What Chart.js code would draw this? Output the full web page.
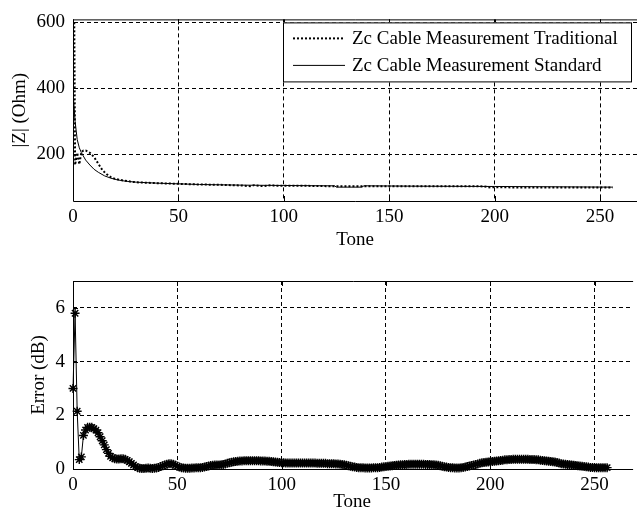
<!DOCTYPE html>
<html>
<head>
<meta charset="utf-8">
<script src="https://cdn.jsdelivr.net/npm/chart.js@4.4.0/dist/chart.umd.min.js"></script>
<style>
  html, body { margin: 0; padding: 0; background: #fff; }
  body { width: 637px; height: 515px; position: relative; overflow: hidden; }
  canvas { position: absolute; left: 0; }
  #zChart { top: 0; }
  #errChart { top: 258px; }
</style>
</head>
<body>
<canvas id="zChart" width="637" height="256"></canvas>
<canvas id="errChart" width="637" height="257"></canvas>
<script>
// tick labels
const toneTicks = [0, 50, 100, 150, 200, 250];
const zTicks = [200, 400, 600];
const errTicks = [0, 2, 4, 6];

// |Z| traditional measurement (dotted)
const tradTones = [0.6, 1, 2, 3, 4, 5, 6, 8, 10, 12, 14, 16, 18, 20, 24, 28, 32, 40, 50, 60, 70,
  80, 84, 86, 90, 94, 96, 100, 110, 120, 130, 140, 150, 160, 170, 180, 190, 195, 198, 200, 210,
  220, 230, 240, 250, 256];
const tradValues = [600, 168, 205, 170, 208, 212, 212, 205, 192, 172, 152, 140, 131, 126, 121, 117, 115, 113, 111, 109, 108,
  106, 104, 107, 104, 107, 105, 105, 105, 104, 104, 104, 104, 104, 104, 104, 104, 103, 100, 101, 100,
  100, 100, 100, 100, 100];

// |Z| standard measurement (solid)
const stdTones = [0, 1, 2, 3, 4, 6, 8, 10, 12, 15, 18, 21, 25, 30, 40, 50, 60, 80, 100, 120, 124,
  125, 137, 138, 160, 200, 230, 256];
const stdValues = [390, 300, 245, 220, 205, 183, 168, 155, 146, 135, 128, 123, 119, 116, 113, 111, 109, 107, 106, 105, 105,
  101, 101, 105, 104, 103, 102, 101];

// error (dB), one value per tone 0..256
const errValues = [
  3.0, 5.8, 2.15, 0.35, 0.45, 1.25, 1.45, 1.55, 1.55, 1.55,
  1.5, 1.45, 1.35, 1.2, 1.05, 0.9, 0.72, 0.58, 0.47, 0.42,
  0.38, 0.37, 0.37, 0.38, 0.38, 0.36, 0.32, 0.27, 0.21, 0.15,
  0.09, 0.05, 0.03, 0.02, 0.02, 0.03, 0.04, 0.03, 0.02, 0.03,
  0.04, 0.06, 0.09, 0.12, 0.15, 0.18, 0.2, 0.2, 0.18, 0.14,
  0.1, 0.07, 0.05, 0.04, 0.03, 0.03, 0.03, 0.04, 0.04, 0.05,
  0.05, 0.05, 0.06, 0.07, 0.09, 0.11, 0.13, 0.14, 0.15, 0.15,
  0.15, 0.16, 0.17, 0.19, 0.21, 0.23, 0.25, 0.27, 0.28, 0.29,
  0.3, 0.3, 0.31, 0.31, 0.31, 0.31, 0.31, 0.31, 0.31, 0.31,
  0.3, 0.3, 0.3, 0.29, 0.29, 0.28, 0.27, 0.26, 0.25, 0.24,
  0.23, 0.23, 0.22, 0.22, 0.22, 0.22, 0.22, 0.22, 0.22, 0.22,
  0.22, 0.22, 0.22, 0.22, 0.22, 0.22, 0.22, 0.21, 0.21, 0.21,
  0.21, 0.21, 0.2, 0.2, 0.2, 0.2, 0.19, 0.19, 0.18, 0.17,
  0.16, 0.14, 0.12, 0.1, 0.08, 0.07, 0.06, 0.05, 0.05, 0.05,
  0.04, 0.04, 0.04, 0.04, 0.05, 0.05, 0.05, 0.06, 0.07, 0.08,
  0.09, 0.1, 0.11, 0.12, 0.13, 0.14, 0.15, 0.16, 0.16, 0.17,
  0.17, 0.18, 0.18, 0.18, 0.18, 0.18, 0.18, 0.18, 0.18, 0.17,
  0.17, 0.17, 0.16, 0.16, 0.15, 0.14, 0.12, 0.1, 0.08, 0.07,
  0.06, 0.05, 0.05, 0.04, 0.04, 0.04, 0.05, 0.06, 0.07, 0.09,
  0.11, 0.13, 0.15, 0.17, 0.19, 0.21, 0.23, 0.24, 0.25, 0.26,
  0.27, 0.28, 0.29, 0.3, 0.31, 0.32, 0.33, 0.34, 0.34, 0.35,
  0.35, 0.36, 0.36, 0.36, 0.36, 0.36, 0.36, 0.36, 0.36, 0.35,
  0.35, 0.35, 0.34, 0.34, 0.33, 0.32, 0.31, 0.3, 0.29, 0.28,
  0.27, 0.26, 0.24, 0.22, 0.2, 0.19, 0.18, 0.17, 0.16, 0.15,
  0.14, 0.13, 0.12, 0.11, 0.1, 0.09, 0.08, 0.07, 0.06, 0.06,
  0.05, 0.05, 0.05, 0.05, 0.05, 0.05, 0.05
];

Chart.defaults.font.family = '"Liberation Serif", "Times New Roman", serif';
Chart.defaults.font.size = 19;
Chart.defaults.color = '#000';

function toPoints(xs, ys) {
  return xs.map((x, i) => ({ x: x, y: ys[i] }));
}

// axes box (left, top, bottom) plus inward tick marks, like matlab
const framePlugin = {
  id: 'frame',
  beforeDatasetsDraw(chart) {
    const { ctx, chartArea: a, scales } = chart;
    ctx.save();
    ctx.strokeStyle = '#000';
    ctx.lineWidth = 1;
    ctx.beginPath();
    ctx.moveTo(a.right + 2, a.top + 0.5);
    ctx.lineTo(a.left + 0.5, a.top + 0.5);
    ctx.lineTo(a.left + 0.5, a.bottom + 0.5);
    ctx.lineTo(a.right + 2, a.bottom + 0.5);
    scales.x.ticks.forEach((t) => {
      const px = Math.round(scales.x.getPixelForValue(t.value)) + 0.5;
      ctx.moveTo(px, a.bottom);
      ctx.lineTo(px, a.bottom - 5);
      ctx.moveTo(px, a.top);
      ctx.lineTo(px, a.top + 5);
    });
    scales.y.ticks.forEach((t) => {
      const py = Math.round(scales.y.getPixelForValue(t.value)) + 0.5;
      ctx.moveTo(a.left, py);
      ctx.lineTo(a.left + 5, py);
    });
    ctx.stroke();
    ctx.restore();
  },
};

// boxed legend in the upper right corner of the plot
const legendBoxPlugin = {
  id: 'legendBox',
  afterDatasetsDraw(chart) {
    const { ctx, chartArea: a } = chart;
    const right = a.right - 6;
    const top = a.top + 3;
    const width = 348;
    const height = 59;
    const left = right - width;
    ctx.save();
    ctx.fillStyle = '#fff';
    ctx.fillRect(left, top, width, height);
    ctx.strokeStyle = '#000';
    ctx.lineWidth = 1;
    ctx.strokeRect(left + 0.5, top + 0.5, width, height);
    chart.data.datasets.forEach((ds, i) => {
      const y = top + 16 + i * 27;
      ctx.beginPath();
      ctx.setLineDash(ds.borderDash || []);
      ctx.lineWidth = ds.borderWidth;
      ctx.moveTo(left + 10, y);
      ctx.lineTo(left + 62, y);
      ctx.stroke();
      ctx.setLineDash([]);
      ctx.fillStyle = '#000';
      ctx.font = Chart.defaults.font.size + 'px ' + Chart.defaults.font.family;
      ctx.textBaseline = 'middle';
      ctx.textAlign = 'left';
      ctx.fillText(ds.label, left + 69, y + 1);
    });
    ctx.restore();
  },
};

function xAxis(height, titlePad) {
  return {
    type: 'linear',
    min: 0,
    max: 267.5,
    afterBuildTicks: (s) => { s.ticks = toneTicks.map((v) => ({ value: v })); },
    afterFit: (s) => { s.height = height; },
    grid: { color: '#000', lineWidth: 1, drawTicks: false },
    border: { display: false, dash: [4, 3] },
    ticks: { padding: 5, maxRotation: 0, autoSkip: false },
    title: { display: true, text: 'Tone', padding: { top: 0, bottom: titlePad } },
  };
}

function yAxis(min, max, ticks, label, titlePad) {
  return {
    min: min,
    max: max,
    afterBuildTicks: (s) => { s.ticks = ticks.map((v) => ({ value: v })); },
    afterFit: (s) => { s.width = 73; },
    grid: { color: '#000', lineWidth: 1, drawTicks: false },
    border: { display: false, dash: [4, 3] },
    ticks: { padding: 8 },
    title: { display: true, text: label, padding: { top: titlePad, bottom: 0 } },
  };
}

new Chart(document.getElementById('zChart'), {
  type: 'line',
  data: {
    datasets: [
      {
        label: 'Zc Cable Measurement Traditional',
        data: toPoints(tradTones, tradValues),
        borderColor: '#000',
        borderWidth: 2,
        borderDash: [2, 2],
        pointRadius: 0,
        tension: 0,
      },
      {
        label: 'Zc Cable Measurement Standard',
        data: toPoints(stdTones, stdValues),
        borderColor: '#000',
        borderWidth: 1,
        pointRadius: 0,
        tension: 0,
      },
    ],
  },
  options: {
    responsive: false,
    animation: false,
    events: [],
    layout: { padding: { top: 18, right: 0, left: 0, bottom: 0 } },
    plugins: { legend: { display: false }, tooltip: { enabled: false } },
    scales: {
      x: xAxis(55, 5),
      y: yAxis(59, 609, zTicks, '|Z| (Ohm)', 9),
    },
  },
  plugins: [framePlugin, legendBoxPlugin],
});

new Chart(document.getElementById('errChart'), {
  type: 'line',
  data: {
    datasets: [
      {
        label: 'Error',
        data: errValues.map((v, i) => ({ x: i, y: v })),
        borderColor: '#000',
        borderWidth: 1,
        pointStyle: 'star',
        pointRadius: 4.5,
        pointBorderColor: '#000',
        pointBackgroundColor: '#000',
        pointBorderWidth: 1.4,
        tension: 0,
        clip: 6,
      },
    ],
  },
  options: {
    responsive: false,
    animation: false,
    events: [],
    layout: { padding: { top: 23, right: 0, left: 0, bottom: 0 } },
    plugins: { legend: { display: false }, tooltip: { enabled: false } },
    scales: {
      x: xAxis(46, 2),
      y: yAxis(0, 7, errTicks, 'Error (dB)', 28),
    },
  },
  plugins: [framePlugin],
});
</script>
</body>
</html>
